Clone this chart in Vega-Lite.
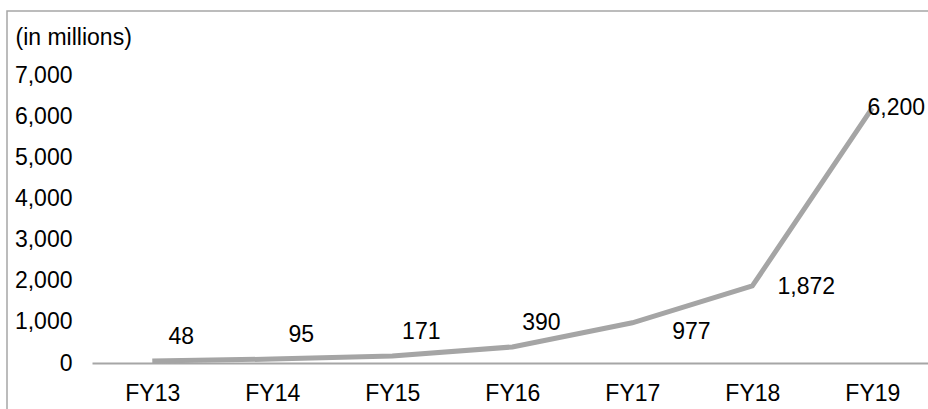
{
  "$schema": "https://vega.github.io/schema/vega-lite/v6.json",
  "autosize": {"type": "none"},
  "padding": {"left": 7, "top": 11, "right": 0, "bottom": 0},
  "width": 930,
  "height": 400,
  "background": "white",
  "config": {
    "view": {"stroke": "#a6a6a6", "strokeWidth": 1.5},
    "font": "Liberation Sans",
    "axis": {"grid": false, "labelFont": "Liberation Sans", "titleFont": "Liberation Sans", "labelColor": "#000000", "titleColor": "#000000"}
  },
  "data": {
    "values": [
      {"year": "FY13", "value": 48},
      {"year": "FY14", "value": 95},
      {"year": "FY15", "value": 171},
      {"year": "FY16", "value": 390},
      {"year": "FY17", "value": 977},
      {"year": "FY18", "value": 1872},
      {"year": "FY19", "value": 6200}
    ]
  },
  "encoding": {
    "x": {
      "field": "year",
      "type": "ordinal",
      "scale": {"type": "point", "range": [85, 921], "padding": 0.483, "align": 0.52},
      "axis": {
        "orient": "bottom",
        "offset": -48,
        "title": null,
        "labelAngle": 0,
        "labelFontSize": 23,
        "labelBaseline": "alphabetic",
        "labelPadding": 37,
        "ticks": false,
        "tickSize": 0,
        "domain": true,
        "domainColor": "#a6a6a6",
        "domainWidth": 2
      }
    },
    "y": {
      "field": "value",
      "type": "quantitative",
      "scale": {"domain": [0, 7000], "range": [352, 64], "nice": false, "zero": true},
      "axis": {
        "orient": "left",
        "offset": -65,
        "values": [0, 1000, 2000, 3000, 4000, 5000, 6000, 7000],
        "format": ",.0f",
        "labelFontSize": 23,
        "labelPadding": 0,
        "ticks": false,
        "tickSize": 0,
        "domain": false,
        "title": "(in millions)",
        "titleAngle": 0,
        "titleAlign": "left",
        "titleBaseline": "alphabetic",
        "titleFontSize": 23,
        "titleFontWeight": "normal",
        "titleX": -57,
        "titleY": 33
      }
    }
  },
  "layer": [
    {
      "mark": {"type": "line", "color": "#a5a5a5", "strokeWidth": 5}
    },
    {
      "transform": [{"filter": "datum.year == 'FY13' || datum.year == 'FY14' || datum.year == 'FY15' || datum.year == 'FY16'"}],
      "mark": {"type": "text", "fontSize": 23, "color": "#000000", "align": "center", "baseline": "middle", "dx": 29, "dy": -24},
      "encoding": {"text": {"field": "value", "type": "quantitative", "format": ",.0f"}}
    },
    {
      "transform": [{"filter": "datum.year == 'FY17'"}],
      "mark": {"type": "text", "fontSize": 23, "color": "#000000", "align": "center", "baseline": "middle", "dx": 59, "dy": 9},
      "encoding": {"text": {"field": "value", "type": "quantitative", "format": ",.0f"}}
    },
    {
      "transform": [{"filter": "datum.year == 'FY18'"}],
      "mark": {"type": "text", "fontSize": 23, "color": "#000000", "align": "center", "baseline": "middle", "dx": 54, "dy": 1},
      "encoding": {"text": {"field": "value", "type": "quantitative", "format": ",.0f"}}
    },
    {
      "transform": [{"filter": "datum.year == 'FY19'"}],
      "mark": {"type": "text", "fontSize": 23, "color": "#000000", "align": "center", "baseline": "middle", "dx": 24, "dy": 0},
      "encoding": {"text": {"field": "value", "type": "quantitative", "format": ",.0f"}}
    }
  ]
}
